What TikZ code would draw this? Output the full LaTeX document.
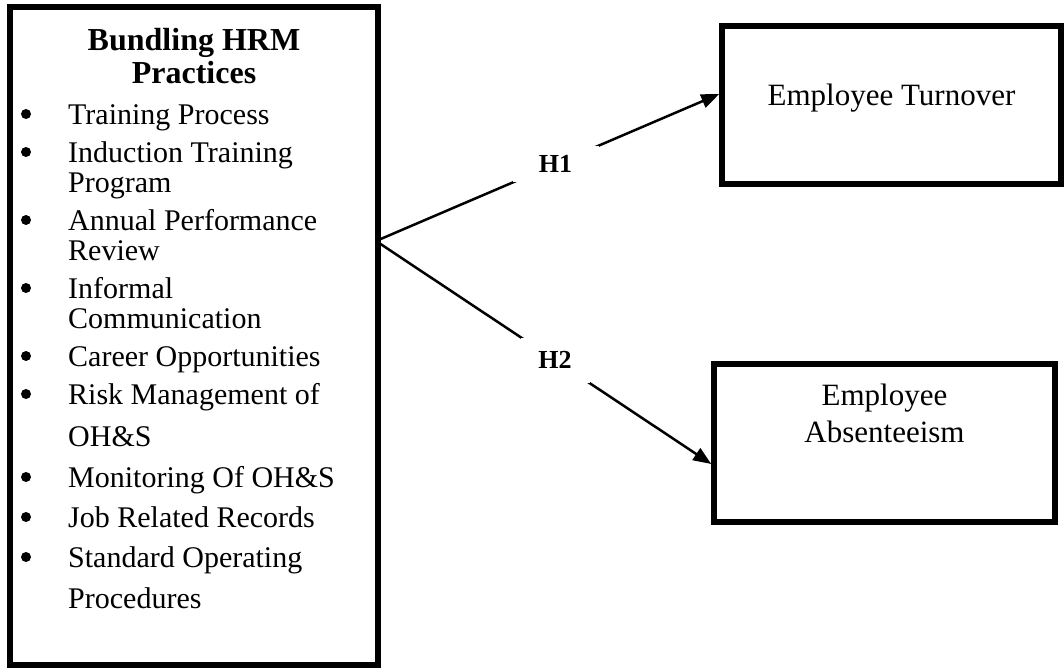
\documentclass[tikz,border=0pt]{standalone}
\usepackage{fontspec}
\setmainfont{Liberation Serif}
\usetikzlibrary{arrows.meta}
\begin{document}
\begin{tikzpicture}[x=1pt,y=-1pt,
  box/.style={draw, line width=5.5pt, inner sep=0pt},
  body/.style={font=\fontsize{30}{36}\selectfont, anchor=base west, inner sep=0pt},
  boxtext/.style={font=\fontsize{31}{37}\selectfont, anchor=base, inner sep=0pt},
  ttl/.style={font=\bfseries\fontsize{32}{38}\selectfont, anchor=base, inner sep=0pt},
  bul/.style={circle, fill, inner sep=0pt, minimum size=10pt},
  conn/.style={line width=2.5pt, -{Triangle[length=18pt,width=14pt]}},
  hlab/.style={fill=white, font=\bfseries\fontsize{26}{30}\selectfont, inner sep=0pt}
]
\useasboundingbox (0,0) rectangle (1064,669);

% boxes
\node[box, minimum width=368pt, minimum height=658pt] (lb) at (194,336) {};
\node[box, minimum width=339pt, minimum height=158pt] (tb) at (891.5,105) {};
\node[box, minimum width=341pt, minimum height=158pt] (bb) at (884.5,443) {};

% left box title
\node[ttl] (t1) at (194,50) {Bundling HRM};
\node[ttl] (t2) at (194,83) {Practices};

% list
\node[body] (l1) at (68,124) {Training Process};
\node[body] (l2) at (68,162) {Induction Training};
\node[body] (l2b) at (68,192) {Program};
\node[body] (l3) at (68,230) {Annual Performance};
\node[body] (l3b) at (68,260) {Review};
\node[body] (l4) at (68,298) {Informal};
\node[body] (l4b) at (68,328) {Communication};
\node[body] (l5) at (68,366) {Career Opportunities};
\node[body] (l6) at (68,404) {Risk Management of};
\node[body] (l6b) at (68,446) {OH\&S};
\node[body] (l7) at (68,487) {Monitoring Of OH\&S};
\node[body] (l8) at (68,527) {Job Related Records};
\node[body] (l9) at (68,567) {Standard Operating};
\node[body] (l9b) at (68,608) {Procedures};

\foreach \n/\yy in {1/124,2/162,3/230,4/298,5/366,6/404,7/487,8/527,9/567}
  \node[bul] (b\n) at (26,\yy-10) {};

% right box texts
\node[boxtext] (et) at (891.5,105) {Employee Turnover};
\node[boxtext] (ea1) at (884.5,405) {Employee};
\node[boxtext] (ea2) at (884.5,442) {Absenteeism};

% connectors
\coordinate (src) at (376,241);
\coordinate (tip1) at (tb.west |- 0,94);
\coordinate (tip2) at (bb.west |- 0,464);
\draw[conn] (src) -- node[hlab, pos=0.523, minimum width=86pt, minimum height=36pt] (h1) {H1} (tip1);
\draw[conn] (src) -- node[hlab, pos=0.534, minimum width=69pt, minimum height=45pt] (h2) {H2} (tip2);
\end{tikzpicture}
\end{document}
